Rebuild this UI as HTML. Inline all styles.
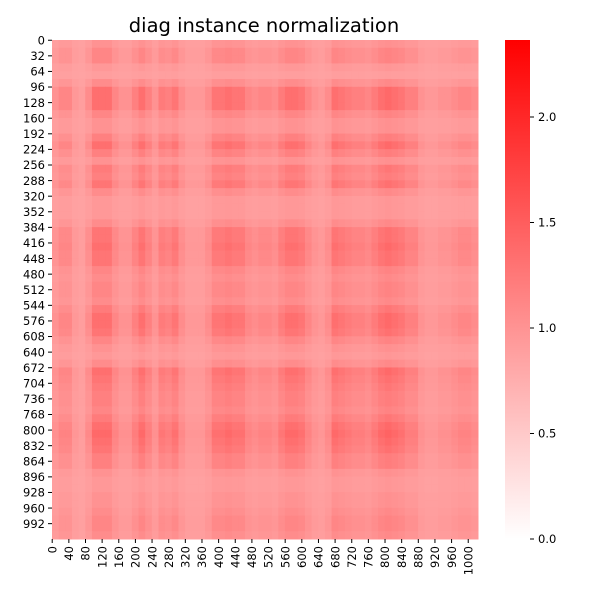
<!DOCTYPE html>
<html><head><meta charset="utf-8"><style>
body{margin:0;background:#fff;width:600px;height:600px;overflow:hidden;font-family:"DejaVu Sans","Liberation Sans",sans-serif}
</style></head><body>
<svg id="s" width="600" height="600" xmlns="http://www.w3.org/2000/svg" style="position:absolute;left:0;top:0;font-family:'DejaVu Sans','Liberation Sans',sans-serif">
<defs><linearGradient id="cb" x1="0" y1="1" x2="0" y2="0"><stop offset="0" stop-color="#fff"/><stop offset="1" stop-color="#f00"/></linearGradient></defs>
<text x="264" y="32" font-size="19.5" text-anchor="middle">diag instance normalization</text>
<g id="cells"></g>
<g id="ax" font-size="11.5"></g>
<rect x="505" y="40" width="25" height="499" fill="url(#cb)"/>
</svg>
<script>
const N = 1024;
const VMAX = 2.365;
const binSize = 16;
const profile = [0.3,0.5,0.5,0.2,0.1,0.4,0.9,0.9,0.9,0.5,0.3,0.3,0.6,0.9,0.6,0.3,
0.7,0.6,0.8,0.4,0.2,0.2,0.2,0.4,0.8,0.8,0.9,0.8,0.8,0.5,0.4,0.5,
0.5,0.4,0.7,0.9,0.9,0.8,0.5,0.3,0.2,0.4,0.9,0.8,0.7,0.6,0.6,0.5,
0.7,0.9,1.0,0.9,0.8,0.6,0.6,0.3,0.2,0.2,0.3,0.3,0.4,0.5,0.5,0.4];
const baseValue = 0.85;
const bandGain = 0.6;
const xTicks = [0,40,80,120,160,200,240,280,320,360,400,440,480,520,560,600,640,680,720,760,800,840,880,920,960,1000];
const yTicks = [0,32,64,96,128,160,192,224,256,288,320,352,384,416,448,480,512,544,576,608,640,672,704,736,768,800,832,864,896,928,960,992];
const cbTicks = [0.0,0.5,1.0,1.5,2.0];

const PX0=52,PX1=478,PY0=40,PY1=539;
const sx = v => PX0 + v/N*(PX1-PX0);
const sy = v => PY0 + v/N*(PY1-PY0);
const sc = v => PY1 - v/VMAX*(PY1-PY0);
const NS="http://www.w3.org/2000/svg";
function color(v){const t=Math.max(0,Math.min(1,v/VMAX));const g=Math.round(255*(1-t));return `rgb(255,${g},${g})`;}
const cells=document.getElementById('cells');
for(let i=0;i<profile.length;i++){for(let j=0;j<profile.length;j++){
  const v=baseValue+bandGain*profile[i]*profile[j];
  const r=document.createElementNS(NS,'rect');
  const x0=sx(j*binSize),x1=sx((j+1)*binSize),y0=sy(i*binSize),y1=sy((i+1)*binSize);
  r.setAttribute('x',x0);r.setAttribute('y',y0);
  r.setAttribute('width',x1-x0+0.5);r.setAttribute('height',y1-y0+0.5);
  r.setAttribute('fill',color(v));
  
  
  cells.appendChild(r);
}}
const ax=document.getElementById('ax');
function line(x1,y1,x2,y2){const l=document.createElementNS(NS,'line');l.setAttribute('x1',x1);l.setAttribute('y1',y1);l.setAttribute('x2',x2);l.setAttribute('y2',y2);l.setAttribute('stroke','#000');l.setAttribute('stroke-width','1');ax.appendChild(l);}
xTicks.forEach(t=>{const x=sx(t+0.5);line(x,PY1,x,PY1+4);
  const tx=document.createElementNS(NS,'text');tx.textContent=t;
  tx.setAttribute('transform',`translate(${x+4.2},${PY1+7}) rotate(-90)`);tx.setAttribute('text-anchor','end');
  
  
  ax.appendChild(tx);});
yTicks.forEach(t=>{const y=sy(t+0.5);line(PX0-4,y,PX0,y);
  const tx=document.createElementNS(NS,'text');tx.textContent=t;
  tx.setAttribute('x',PX0-7);tx.setAttribute('y',y+4.2);tx.setAttribute('text-anchor','end');
  
  
  ax.appendChild(tx);});
cbTicks.forEach(t=>{const y=sc(t);line(530,y,534,y);
  const tx=document.createElementNS(NS,'text');tx.textContent=t.toFixed(1);
  tx.setAttribute('x',538);tx.setAttribute('y',y+4.2);
  
  
  ax.appendChild(tx);});
</script>
</body></html>
